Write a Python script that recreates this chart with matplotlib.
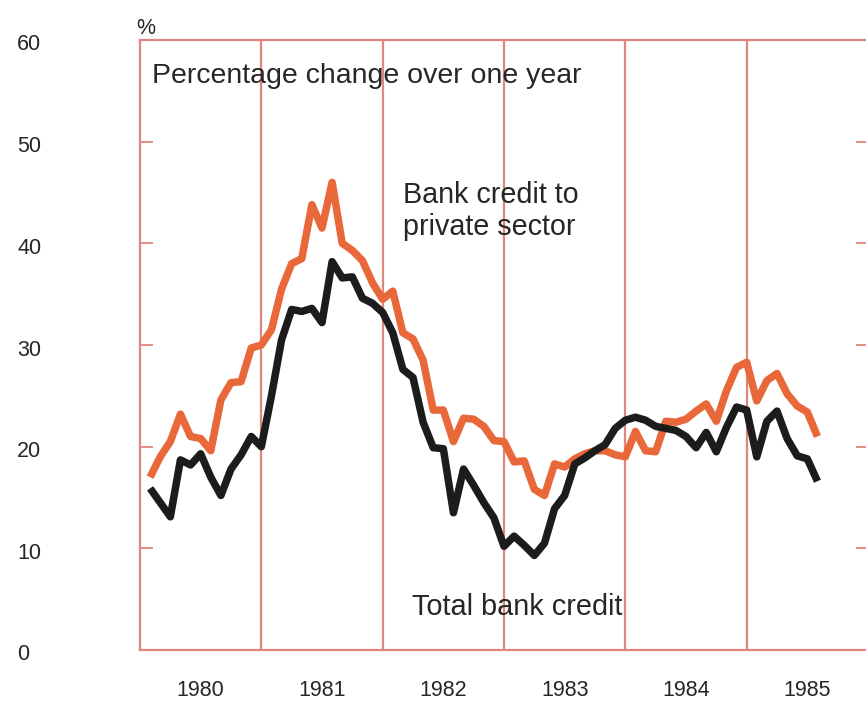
import numpy as np
import matplotlib
matplotlib.use("Agg")
import matplotlib.pyplot as plt
from matplotlib.transforms import blended_transform_factory, ScaledTranslation

# monthly data, Jan 1980 - Jul 1985 (percentage change over one year)
years = [1980, 1981, 1982, 1983, 1984, 1985]
private_credit = [17.0, 19.0, 20.5, 23.2, 21.0, 20.8, 19.6, 24.6, 26.3, 26.4,
                  29.7, 30.0, 31.5, 35.5, 38.0, 38.5, 43.8, 41.5, 46.0, 40.0,
                  39.3, 38.3, 36.1, 34.5, 35.3, 31.2, 30.6, 28.5, 23.6, 23.6,
                  20.5, 22.8, 22.7, 22.0, 20.6, 20.5, 18.5, 18.6, 15.8, 15.2,
                  18.3, 18.0, 18.8, 19.3, 19.6, 19.6, 19.2, 19.0, 21.5, 19.6,
                  19.5, 22.5, 22.4, 22.7, 23.5, 24.2, 22.5, 25.5, 27.8, 28.3,
                  24.5, 26.5, 27.2, 25.2, 24.0, 23.4, 21.0]
total_credit = [15.9, 14.5, 13.1, 18.7, 18.2, 19.3, 17.0, 15.2, 17.8, 19.2,
                21.0, 20.0, 25.0, 30.5, 33.5, 33.3, 33.6, 32.2, 38.2, 36.6,
                36.7, 34.6, 34.1, 33.2, 31.2, 27.6, 26.8, 22.4, 19.9, 19.8,
                13.5, 17.8, 16.2, 14.5, 13.0, 10.2, 11.2, 10.3, 9.3, 10.5,
                13.9, 15.2, 18.3, 18.9, 19.6, 20.2, 21.8, 22.6, 22.9, 22.6,
                22.0, 21.8, 21.6, 21.0, 19.9, 21.4, 19.5, 21.9, 23.9, 23.6,
                19.0, 22.5, 23.5, 20.8, 19.1, 18.8, 16.6]
yticks = [0, 10, 20, 30, 40, 50, 60]

t = 1980 + (np.arange(len(total_credit)) + 1) / 12.0

frame = "#e0867a"
orange = "#e8683a"
black = "#1c1c1c"
txt = "#262626"
font = "Liberation Sans"

fig = plt.figure(figsize=(8.66, 7.03), dpi=100)
ax = fig.add_axes([140 / 866, 53 / 703, 728 / 866, 610 / 703])

ax.plot(t, private_credit, color=orange, lw=5.4, solid_joinstyle="round",
        solid_capstyle="butt", zorder=3)
ax.plot(t, total_credit, color=black, lw=5.4, solid_joinstyle="round",
        solid_capstyle="butt", zorder=4)

ax.set_xlim(1980, 1986)
ax.set_ylim(0, 60)

for sp in ax.spines.values():
    sp.set_color(frame)
    sp.set_linewidth(1.6)
for y in years[1:]:
    ax.axvline(y, color=frame, lw=1.6, zorder=1)

ax.set_yticks(yticks)
ax.set_xticks([])
ax.tick_params(axis="y", direction="in", length=9, width=1.3, color=frame,
               left=True, right=True, labelleft=False)

# y labels far to the left
tr = blended_transform_factory(fig.transFigure, ax.transData) + \
    ScaledTranslation(0, -5 / 100, fig.dpi_scale_trans)
for v in yticks:
    ax.text(17 / 866, v, str(v), transform=tr, ha="left", va="center",
            fontsize=15.5, color=txt, family=font)

# year labels centred in each year
trx = blended_transform_factory(ax.transData, fig.transFigure)
for y in years:
    ax.text(y + 0.5, 1 - 690 / 703, str(y), transform=trx, ha="center",
            va="center", fontsize=15.5, color=txt, family=font)

fig.text(136 / 866, 1 - 28 / 703, "%", fontsize=15.5, color=txt, family=font,
         ha="left", va="center")

ax.text(1980.1, 56.5, "Percentage change over one year", fontsize=20.5,
        color=txt, family=font, ha="left", va="center")
ax.text(1982.17, 43.2, "Bank credit to\nprivate sector", fontsize=20.7,
        color=txt, family=font, ha="left", va="center", linespacing=1.2)
ax.text(1982.24, 4.2, "Total bank credit", fontsize=20.8,
        color=txt, family=font, ha="left", va="center")

fig.savefig("out.png", dpi=100, facecolor="white")
